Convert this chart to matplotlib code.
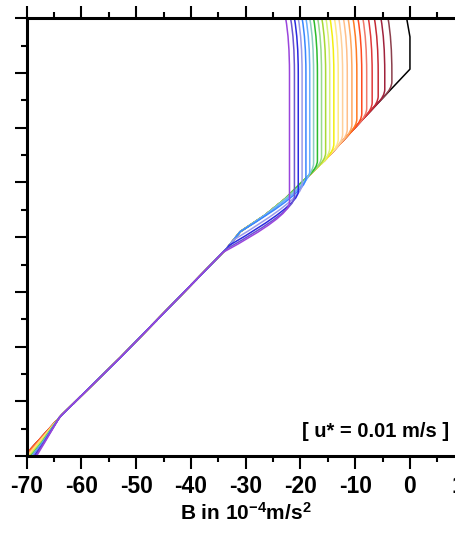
import numpy as np
import matplotlib.pyplot as plt
from matplotlib.path import Path
from matplotlib.patches import PathPatch
from matplotlib.ticker import MultipleLocator

plt.rcParams['font.family'] = ['Liberation Sans', 'DejaVu Sans']
plt.rcParams['axes.unicode_minus'] = False
plt.rcParams['mathtext.default'] = 'regular'

# --- DATA (B in 1e-4 m/s^2, z in m) ---
# shared profile below the mixed layer (stratification), top to bottom
base_b = [0.0, -8.2, -15.6, -19.8, -22.8, -26.5, -31.0, -33.4, -52.9, -63.6, -64.05, -68.13, -70.4]
base_z = [-9.3, -18.0, -26.0, -30.0, -33.0, -36.0, -39.0, -42.0, -62.0, -72.5, -73.0, -77.5, -80.0]

# initial profile (black)
init_surf_b = -0.6
init_ml_b = 0.0
init_ml_top = -3.4

# mixed layer profiles, first (right, dark red) to last (left, violet)
surf_b = [-4.0, -5.3, -6.5, -7.6, -8.6, -9.5, -10.4, -11.3, -12.15, -13.0, -13.8, -14.6,
          -15.35, -16.1, -16.85, -17.6, -18.3, -19.0, -19.7, -20.4, -21.1, -21.8, -22.7]
ml_b = [-3.3, -4.6, -5.8, -6.9, -7.9, -8.8, -9.7, -10.6, -11.45, -12.3, -13.1, -13.9,
        -14.65, -15.4, -16.15, -16.9, -17.6, -18.3, -19.0, -19.7, -20.4, -21.1, -22.0]
ml_base_z = [-12.8, -14.2, -15.45, -16.6, -17.7, -18.65, -19.6, -20.6, -21.5, -22.4, -23.3, -24.15,
             -24.95, -25.8, -26.5, -27.25, -29.0, -30.5, -31.8, -33.0, -34.2, -35.2, -36.2]
join_z = [-14.3, -15.7, -16.95, -18.1, -19.2, -20.15, -21.1, -22.1, -23.0, -23.9, -24.8, -25.65,
          -26.45, -27.3, -28.0, -28.75, -34.0, -37.0, -39.0, -40.5, -41.5, -42.2, -42.8]
knee_b = [-68.13, -68.13, -68.13, -68.13, -68.13, -68.13, -68.0, -67.9, -67.8, -67.7, -67.6, -67.5,
          -67.4, -67.3, -67.25, -67.2, -67.1, -67.05, -67.0, -66.9, -66.85, -66.8, -66.7]
bottom_b = [-70.4, -70.4, -70.4, -70.4, -70.4, -70.4, -70.2, -70.0, -69.9, -69.8, -69.7, -69.6,
            -69.5, -69.4, -69.3, -69.2, -69.1, -69.0, -68.9, -68.8, -68.6, -68.4, -68.2]

colors = ['#8c3f4c', '#a0223c', '#c42a35', '#e03a3a', '#f07a6a', '#ff4a1f', '#ff7a22', '#ffa860',
          '#ffbf8a', '#ffd09a', '#ffe987', '#f2ee10', '#dcf27a', '#a8d835', '#98db8c', '#2cbc2c',
          '#8ccfc0', '#6aaeff', '#3a86ff', '#9a9ae8', '#2a2ae0', '#6a55d0', '#9a45dc']

Z_KNEE = -77.5
Z_DEPART = -73.0


def base_at(z):
    return np.interp(-z, -np.array(base_z), np.array(base_b))


def profile_path(i):
    m = ml_b[i]
    r = min(2.5, 0.8 * (ml_base_z[i] - join_z[i]))
    verts = [(surf_b[i], 0.0), (m, -4.0), (m, -10.0),
             (m, ml_base_z[i] + r),
             (m, ml_base_z[i]), (base_at(join_z[i]), join_z[i])]
    codes = [Path.MOVETO, Path.CURVE3, Path.CURVE3, Path.LINETO, Path.CURVE3, Path.CURVE3]
    for bb, zz in zip(base_b, base_z):
        if join_z[i] > zz >= Z_DEPART:
            verts.append((bb, zz)); codes.append(Path.LINETO)
    verts += [(knee_b[i], Z_KNEE), (bottom_b[i], -80.0)]
    codes += [Path.LINETO, Path.LINETO]
    return Path(verts, codes)


fig = plt.figure(figsize=(4.56, 5.33), dpi=100)
ax = fig.add_axes([26.7 / 456, 77 / 533, 438 / 456, 437.7 / 533])

# initial profile (drawn underneath the others)
ax.plot([init_surf_b, init_ml_b] + base_b, [0.0, init_ml_top] + base_z, color='black', lw=1.1,
        zorder=1)

for i in range(len(ml_b)):
    ax.add_patch(PathPatch(profile_path(i), fill=False, edgecolor=colors[i], lw=1.1,
                           capstyle='round', joinstyle='round', zorder=2 + i * 0.01))

ax.set_xlim(-70, 10)
ax.set_ylim(-80, 0)
ax.xaxis.set_major_locator(MultipleLocator(10))
ax.xaxis.set_minor_locator(MultipleLocator(5))
ax.yaxis.set_major_locator(MultipleLocator(10))
ax.yaxis.set_minor_locator(MultipleLocator(5))
ax.tick_params(which='both', direction='out', top=True, right=True, labelleft=False,
               labelsize=16.5, pad=4.5)
ax.tick_params(which='major', length=9, width=1.5)
ax.tick_params(which='minor', length=4.5, width=1.5)
for lab in ax.get_xticklabels():
    lab.set_fontweight('bold')
for s in ax.spines.values():
    s.set_linewidth(2.2)
    s.set_zorder(5)

ax.set_xlabel('B in 10$^{-4}$m/s$^2$', fontsize=15, fontweight='bold', labelpad=3)
ax.text(0.7975, 0.055, '[ u* = 0.01 m/s ]', transform=ax.transAxes, ha='center', va='center',
        fontsize=14.5, fontweight='bold')

plt.savefig('out.png', dpi=100)
